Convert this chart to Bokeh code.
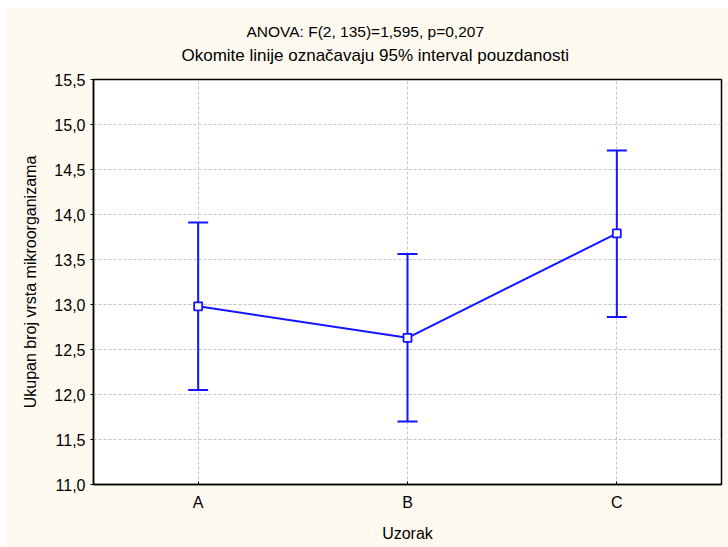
from bokeh.plotting import figure
from bokeh.models import (ColumnDataSource, FactorRange, Range1d, Whisker, TeeHead,
                          FixedTicker, CustomJSTickFormatter, Title)
from bokeh.embed import file_html
from bokeh.resources import INLINE

# ---- data ----
categories = ["A", "B", "C"]
means = [12.98, 12.63, 13.79]
ci_lower = [12.05, 11.70, 12.86]
ci_upper = [13.91, 13.56, 14.71]
y_ticks = [11.0, 11.5, 12.0, 12.5, 13.0, 13.5, 14.0, 14.5, 15.0, 15.5]
title_1 = "ANOVA: F(2, 135)=1,595, p=0,207"
title_2 = "Okomite linije označavaju 95% interval pouzdanosti"
x_label = "Uzorak"
y_label = "Ukupan broj vrsta mikroorganizama"

FONT = "Liberation Sans"
FS = "16px"
BLUE = "#1414ff"
BG = "#fffaf0"

src = ColumnDataSource(dict(cat=categories, mean=means, lower=ci_lower, upper=ci_upper))

p = figure(width=723, height=540, output_backend="svg", toolbar_location=None,
           x_range=FactorRange(factors=categories, range_padding=0),
           y_range=Range1d(y_ticks[0], y_ticks[-1]),
           min_border_left=88, min_border_right=7, min_border_top=72, min_border_bottom=63,
           title=None)
p.margin = (7, 0, 0, 5)

p.background_fill_color = "white"
p.border_fill_color = BG
p.outline_line_color = "black"
p.outline_line_width = 1.5

# heading: two lines (first added is nearest the frame)
p.add_layout(Title(text=title_2, align="left", offset=88, vertical_align="top",
                   standoff=25, text_font=FONT, text_font_size="17px",
                   text_font_style="normal", text_color="black"), "above")
p.add_layout(Title(text=title_1, align="left", offset=153, vertical_align="bottom",
                   standoff=-12, text_font=FONT, text_font_size="15.5px",
                   text_font_style="normal", text_color="black"), "above")

# grid
for g in (p.xgrid, p.ygrid):
    g.grid_line_color = "#c4c4c4"
    g.grid_line_dash = "3 2"
    g.grid_line_width = 1

# axes
p.yaxis.ticker = FixedTicker(ticks=y_ticks)
p.yaxis.formatter = CustomJSTickFormatter(code="return tick.toFixed(1).replace('.', ',');")
for ax in (p.xaxis[0], p.yaxis[0]):
    ax.axis_line_color = "black"
    ax.axis_line_width = 1.5
    ax.major_tick_line_color = "black"
    ax.minor_tick_line_color = None
    ax.major_label_text_font = FONT
    ax.major_label_text_font_size = FS
    ax.major_label_text_color = "black"
    ax.axis_label_text_font = FONT
    ax.axis_label_text_font_size = FS
    ax.axis_label_text_font_style = "normal"
    ax.axis_label_text_color = "black"

p.yaxis.axis_label = y_label
p.yaxis.major_tick_out = 3
p.yaxis.major_tick_in = 0
p.yaxis.major_label_standoff = 5
p.yaxis.axis_label_standoff = 12

p.xaxis.axis_label = x_label
p.xaxis.major_tick_out = 0
p.xaxis.major_tick_in = 3
p.xaxis.major_label_standoff = 9
p.xaxis.axis_label_standoff = 11

# error bars
wh = Whisker(base="cat", lower="lower", upper="upper", source=src, dimension="height",
             line_color=BLUE, line_width=2,
             upper_head=TeeHead(size=20, line_color=BLUE, line_width=2),
             lower_head=TeeHead(size=20, line_color=BLUE, line_width=2))
p.add_layout(wh)

# mean line & markers
p.line("cat", "mean", source=src, line_color=BLUE, line_width=2)
p.scatter("cat", "mean", source=src, marker="square", size=8, fill_color="white",
          line_color=BLUE, line_width=1.8)

open("out.html", "w").write(file_html(p, INLINE))
